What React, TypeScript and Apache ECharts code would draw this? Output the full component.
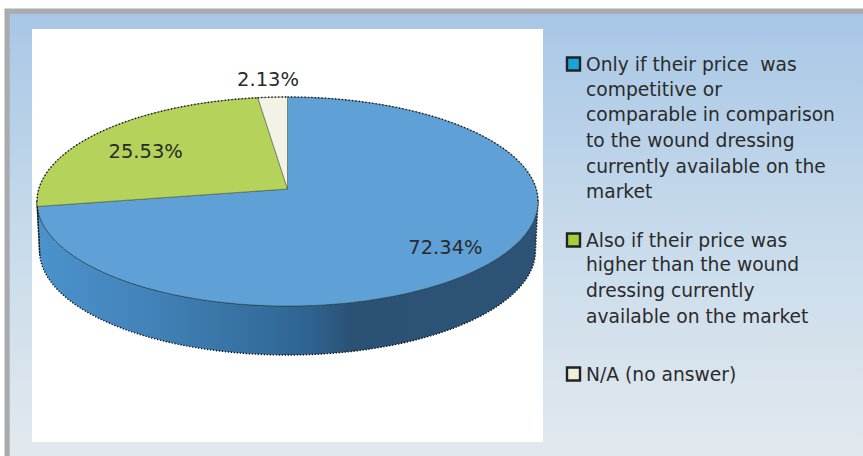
import React, { useEffect, useRef } from "react";
import * as echarts from "echarts";

const categories = [
  "Only if their price  was competitive or comparable in comparison to the wound dressing currently available on the market",
  "Also if their price was higher than the wound dressing currently available on the market",
  "N/A (no answer)",
];
const values = [72.34, 25.53, 2.13];
const valueLabels = ["72.34%", "25.53%", "2.13%"];
const legendLines = [
  ["Only if their price  was", "competitive or", "comparable in comparison", "to the wound dressing", "currently available on the", "market"],
  ["Also if their price was", "higher than the wound", "dressing currently", "available on the market"],
  ["N/A (no answer)"],
];

// Presentation
const sliceColors = ["#5fa1d7", "#b5d25b", "#f2f2e6"];
const legendColors = ["#1ba3dd", "#a5ce3f", "#efefda"];
const labelRadius = [0.8, 0.74, 1.2];
const labelShift = [[-4, 2], [-1, 5], [-2, -2]];
const legendLineY = [
  [64, 89.5, 114.5, 140.5, 166, 191],
  [240, 264.5, 290, 316.5],
  [374],
];
const FONT = '"DejaVu Sans", sans-serif';
const W = 863;
const H = 456;
const APEX_X = 287.5;
const APEX_Y = 189;
const RX = 248.7;
const RY = 103;
const K = -0.1196;
const DEPTH = 49;
const BOTTOM_SCALE = 0.99;
const FRONT_FROM = 96.9;
const FRONT_TO = 263.1;

// Projects a point of the unit disc (clockwise degrees from 12 o'clock) into the tilted pie.
function project(deg: number, r = 1): [number, number] {
  const a = (deg * Math.PI) / 180;
  const u = r * Math.sin(a);
  const v = -r * Math.cos(a);
  const d = 1 + K * v;
  return [APEX_X + (RX * u) / d, APEX_Y + (RY * v) / d];
}
function lower(p: [number, number]): [number, number] {
  return [APEX_X + (p[0] - APEX_X) * BOTTOM_SCALE, p[1] + DEPTH];
}
function rim(from: number, to: number): [number, number][] {
  const pts: [number, number][] = [];
  const n = Math.max(2, Math.ceil((to - from) / 1));
  for (let i = 0; i <= n; i++) pts.push(project(from + ((to - from) * i) / n));
  return pts;
}

function renderSlice(params: any, api: any) {
  const i = params.dataIndex;
  const total = values.reduce((s, v) => s + v, 0);
  const before = values.slice(0, i).reduce((s, v) => s + v, 0);
  const start = (before / total) * 360;
  const end = ((before + api.value(0)) / total) * 360;
  const mid = (start + end) / 2;
  const edge = rim(start, end);
  const children: any[] = [];

  const from = Math.max(start, FRONT_FROM);
  const to = Math.min(end, FRONT_TO);
  if (to > from) {
    const topFront = rim(from, to);
    const bottomFront = topFront.map(lower);
    const wall = [...topFront, ...bottomFront.slice().reverse()];
    children.push({
      type: "polygon",
      shape: { points: wall },
      style: {
        fill: new echarts.graphic.LinearGradient(
          37, 0, 538, 0,
          [
            { offset: 0, color: "#4b93cc" },
            { offset: 0.22, color: "#4283b9" },
            { offset: 0.44, color: "#356f9f" },
            { offset: 0.54, color: "#2f6492" },
            { offset: 0.63, color: "#2b5174" },
            { offset: 1, color: "#2d5376" },
          ],
          true as any
        ),
      },
    });
    children.push({
      type: "polyline",
      shape: { points: [topFront[0], ...bottomFront, topFront[topFront.length - 1]] },
      style: { fill: null, stroke: "#0a0a0a", lineWidth: 1.4, lineDash: [1.2, 1.8] },
    });
    children.push({
      type: "polyline",
      shape: { points: topFront },
      style: { fill: null, stroke: "#1c3a57", lineWidth: 1 },
    });
  }

  children.push({
    type: "polygon",
    shape: { points: [[APEX_X, APEX_Y], ...edge] },
    style: { fill: sliceColors[i], stroke: "rgba(45,60,40,0.65)", lineWidth: 0.7 },
  });
  const backFrom = Math.max(start, FRONT_TO);
  const backTo = end;
  const backRanges: [number, number][] = [];
  if (backTo > backFrom) backRanges.push([backFrom, backTo]);
  if (start < FRONT_FROM) backRanges.push([start, Math.min(end, FRONT_FROM)]);
  backRanges.forEach(([a, b]) => {
    children.push({
      type: "polyline",
      shape: { points: rim(a, b) },
      style: { fill: null, stroke: "#111111", lineWidth: 1.4, lineDash: [1.2, 2.2] },
    });
  });

  const at = project(mid, labelRadius[i]);
  children.push({
    type: "text",
    style: {
      text: valueLabels[i],
      x: at[0] + labelShift[i][0],
      y: at[1] + labelShift[i][1],
      align: "center",
      verticalAlign: "middle",
      font: `19.5px ${FONT}`,
      fill: "#2a2a2a",
    },
  });
  return { type: "group", children };
}

function buildLegend() {
  const out: any[] = [];
  legendLines.forEach((lines, i) => {
    out.push({
      type: "rect",
      shape: { x: 567, y: legendLineY[i][0] - 6.5, width: 13, height: 13 },
      style: { fill: legendColors[i], stroke: "#232323", lineWidth: 2.4 },
      z: 5,
    });
    lines.forEach((line, j) => {
      out.push({
        type: "text",
        style: {
          text: line,
          x: 586,
          y: legendLineY[i][j],
          align: "left",
          verticalAlign: "middle",
          font: `18.7px ${FONT}`,
          fill: "#2b2b2b",
        },
        z: 5,
      });
    });
  });
  return out;
}

export default function App() {
  const ref = useRef<HTMLDivElement>(null);
  useEffect(() => {
    document.body.style.margin = "0";
    const chart = echarts.init(ref.current!, undefined, { renderer: "svg" });
    chart.setOption({
      animation: false,
      backgroundColor: "#ffffff",
      graphic: [
        { type: "rect", shape: { x: 4.5, y: 8.5, width: W, height: H }, style: { fill: "#a9abae" }, z: -10 },
        {
          type: "rect",
          shape: { x: 9.7, y: 13.7, width: W, height: H },
          style: {
            fill: new echarts.graphic.LinearGradient(0, 0, 0, 1, [
              { offset: 0, color: "#a8c7e6" },
              { offset: 0.5, color: "#c8dbeb" },
              { offset: 1, color: "#e4eaee" },
            ]),
          },
          z: -9,
        },
        { type: "rect", shape: { x: 32, y: 29, width: 511, height: 413 }, style: { fill: "#ffffff" }, z: -8 },
        ...buildLegend(),
      ],
      series: [
        {
          type: "custom",
          name: "Price",
          coordinateSystem: "none",
          silent: true,
          clip: false,
          renderItem: renderSlice,
          data: values.map((v, i) => ({ name: categories[i], value: [v] })),
        },
      ],
    });
    return () => chart.dispose();
  }, []);
  return <div ref={ref} style={{ width: W, height: H }} />;
}
